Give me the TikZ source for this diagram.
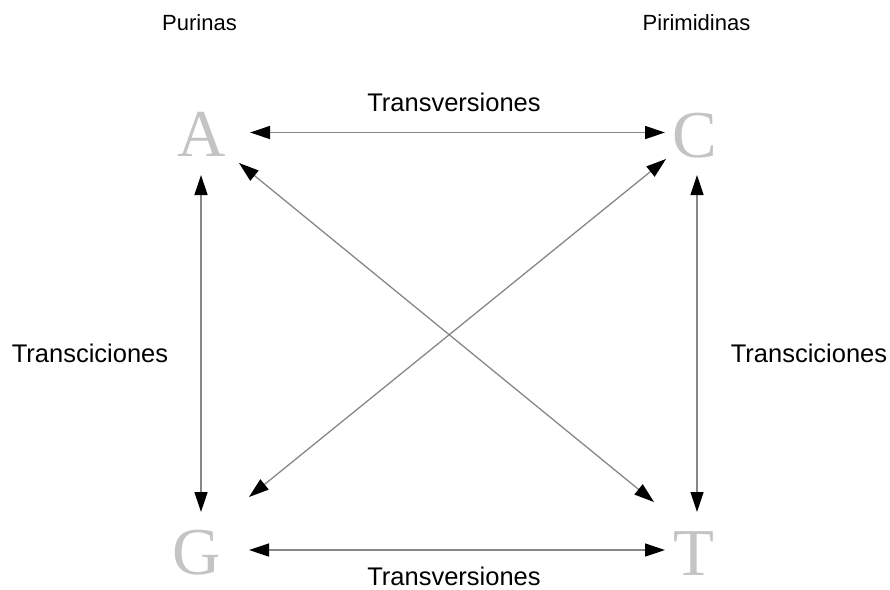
\documentclass[tikz,border=0pt]{standalone}
\usepackage{fontspec}
\setmainfont{Liberation Sans}
\newfontfamily\basefont{Liberation Serif}
\usetikzlibrary{arrows.meta}
\definecolor{basegray}{RGB}{196,196,196}
\definecolor{linkgray}{RGB}{135,135,135}
\begin{document}
\begin{tikzpicture}[x=1pt,y=-1pt,
  base/.style={font=\basefont\fontsize{67}{67}\selectfont, text=basegray, inner sep=0pt, anchor=base},
  head/.style={font=\fontsize{22}{22}\selectfont, inner sep=0pt, anchor=base},
  kind/.style={font=\fontsize{25.5}{25.5}\selectfont, inner sep=0pt, anchor=base},
  link/.style={draw=linkgray, line width=1.3pt,
    {Triangle[length=20pt,width=13pt,color=black]}-{Triangle[length=20pt,width=13pt,color=black]}}]
\useasboundingbox (0,0) rectangle (890,589);

% group headings
\node[head] (pur) at (199.5,30) {Purinas};
\node[head] (pir) at (696.5,30) {Pirimidinas};

% the four bases
\node[base] (A) at (201.5,156) {A};
\node[base] (C) at (695,157) {C};
\node[base] (G) at (196.5,574) {G};
\node[base] (T) at (694,575) {T};

% arrow ends around each base
\coordinate (A-e)  at (250,132.5);
\coordinate (A-s)  at (201,175);
\coordinate (A-se) at (239,163);
\coordinate (C-w)  at (665,132.5);
\coordinate (C-s)  at (697,175);
\coordinate (C-sw) at (666,159);
\coordinate (G-e)  at (249,550);
\coordinate (G-n)  at (201,512);
\coordinate (G-ne) at (249,497);
\coordinate (T-w)  at (665,550);
\coordinate (T-n)  at (697,512);
\coordinate (T-nw) at (654,502);

% substitutions
\draw[link] (A-e) -- (C-w);
\draw[link] (G-e) -- (T-w);
\draw[link] (A-s) -- (G-n);
\draw[link] (C-s) -- (T-n);
\draw[link] (A-se) -- (T-nw);
\draw[link] (G-ne) -- (C-sw);

% labels
\node[kind] (tvtop) at (454,111) {Transversiones};
\node[kind] (tvbot) at (454,585) {Transversiones};
\node[kind] (tsl) at (90,362) {Transciciones};
\node[kind] (tsr) at (809,362) {Transciciones};
\end{tikzpicture}
\end{document}
